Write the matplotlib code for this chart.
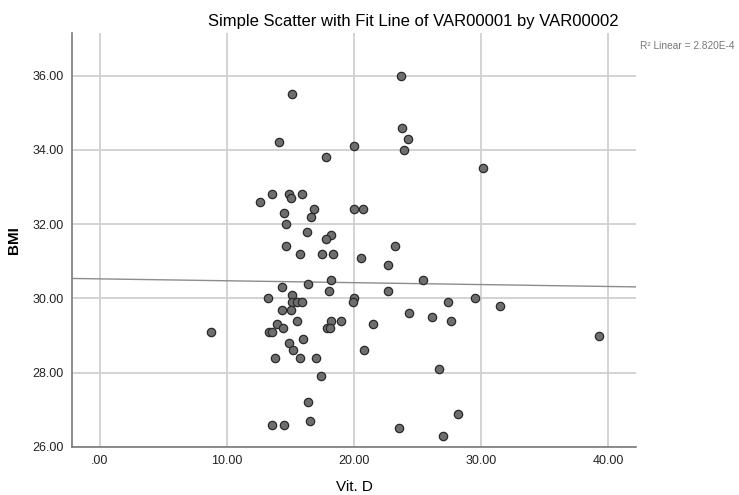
import matplotlib.pyplot as plt
import numpy as np

# values
vit_d = [15.1, 14.1, 20.0, 17.8, 23.7, 23.8, 24.2, 23.9, 30.1, 12.6,
         13.5, 14.9, 15.0, 15.9, 14.5, 16.8, 16.6, 14.6, 20.0, 20.7,
         16.3, 18.2, 17.8, 14.6, 23.2, 15.7, 17.5, 18.3, 20.5, 22.7,
         16.4, 14.3, 18.2, 18.0, 22.7, 25.4, 13.2, 15.1, 15.1, 15.5,
         15.9, 20.0, 19.9, 14.3, 15.0, 15.5, 18.2, 19.0, 21.5, 13.9,
         14.4, 13.3, 13.5, 8.7, 17.9, 18.1, 16.0, 14.9, 15.2, 20.8,
         13.8, 15.7, 17.0, 17.4, 16.4, 16.5, 13.5, 14.5, 23.5, 27.4,
         29.5, 31.5, 24.3, 26.1, 27.6, 39.3, 26.7, 28.2, 27.0]
bmi = [35.5, 34.2, 34.1, 33.8, 36.0, 34.6, 34.3, 34.0, 33.5, 32.6,
       32.8, 32.8, 32.7, 32.8, 32.3, 32.4, 32.2, 32.0, 32.4, 32.4,
       31.8, 31.7, 31.6, 31.4, 31.4, 31.2, 31.2, 31.2, 31.1, 30.9,
       30.4, 30.3, 30.5, 30.2, 30.2, 30.5, 30.0, 30.1, 29.9, 29.9,
       29.9, 30.0, 29.9, 29.7, 29.7, 29.4, 29.4, 29.4, 29.3, 29.3,
       29.2, 29.1, 29.1, 29.1, 29.2, 29.2, 28.9, 28.8, 28.6, 28.6,
       28.4, 28.4, 28.4, 27.9, 27.2, 26.7, 26.6, 26.6, 26.5, 29.9,
       30.0, 29.8, 29.6, 29.5, 29.4, 29.0, 28.1, 26.9, 26.3]

x_ticks = [0, 10, 20, 30, 40]
y_ticks = [26, 28, 30, 32, 34, 36]
r2_label = "R\u00b2 Linear = 2.820E-4"

plt.rcParams['font.family'] = ['Liberation Sans', 'DejaVu Sans']

fig = plt.figure(figsize=(7.39, 4.95), dpi=100)
ax = fig.add_axes([0.097, 0.097, 0.764, 0.836])

xlim = (-2.23, 42.2)
ax.set_xlim(*xlim)
ax.set_ylim(26, 37.14)

ax.scatter(vit_d, bmi, s=36, facecolor='#6e6e6e', edgecolor='#2a2a2a',
           linewidth=0.9, zorder=3)

# linear fit line
slope, intercept = np.polyfit(vit_d, bmi, 1)
xs = np.array(xlim)
ax.plot(xs, intercept + slope * xs, color='#8c8c8c', linewidth=1.0, zorder=2)

def spss_fmt(v):
    s = f"{v:.2f}"
    return s[1:] if s.startswith("0") else s

ax.set_xticks(x_ticks)
ax.set_xticklabels([spss_fmt(v) for v in x_ticks])
ax.set_yticks(y_ticks)
ax.set_yticklabels([spss_fmt(v) for v in y_ticks])
ax.tick_params(length=0, labelsize=9, colors='#222222', pad=6)

ax.grid(True, color='#d0d0d0', linewidth=1.3, zorder=0)
ax.set_axisbelow(True)
for side in ['top', 'right']:
    ax.spines[side].set_visible(False)
for side in ['left', 'bottom']:
    ax.spines[side].set_color('#7a7a7a')
    ax.spines[side].set_linewidth(1.2)

ax.set_xlabel("Vit. D", fontsize=11, labelpad=9)
ax.set_ylabel("BMI", fontsize=11, fontweight='bold', labelpad=8)
fig.text(0.559, 0.957, "Simple Scatter with Fit Line of VAR00001 by VAR00002",
         ha='center', va='center', fontsize=12)
fig.text(0.866, 0.908, r2_label, ha='left', va='center', fontsize=7.3,
         color='#777777')

fig.savefig("out.png", dpi=100)
